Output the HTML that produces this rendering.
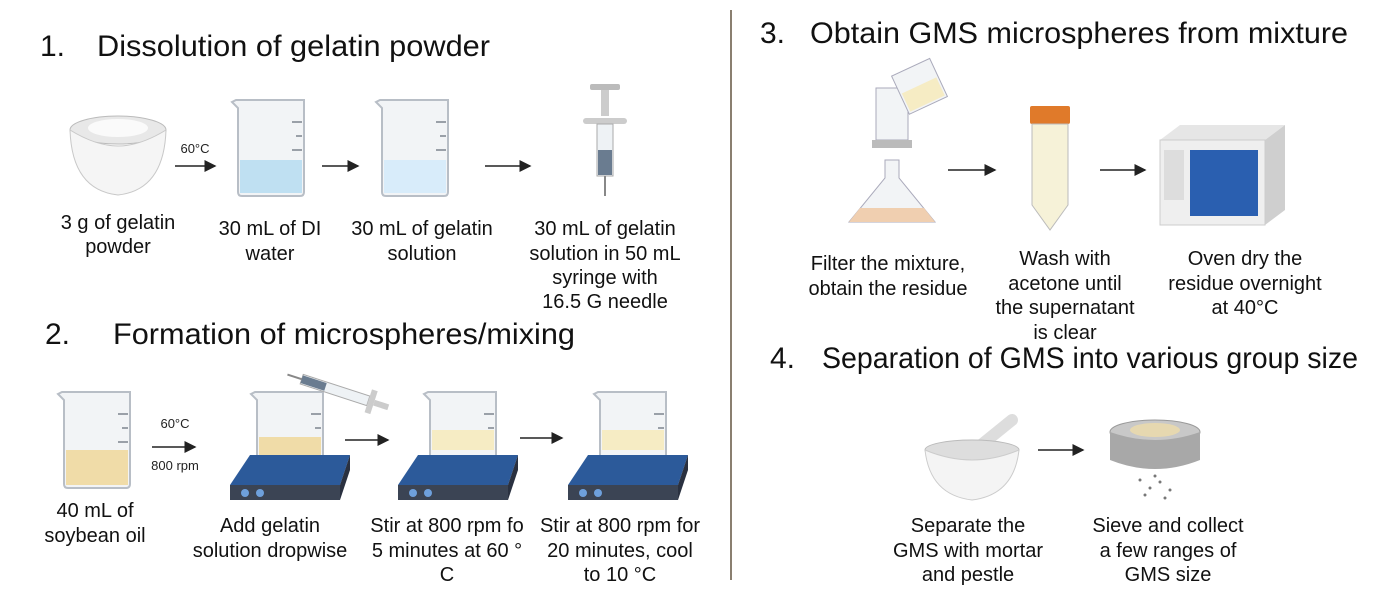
<!DOCTYPE html>
<html><head><meta charset="utf-8">
<style>
body{margin:0;background:#fff;}
svg{display:block;font-family:"Liberation Sans",Arial,sans-serif;}
.t{font-size:30px;fill:#111;}
.c{font-size:20px;fill:#111;text-anchor:middle;}
.s{font-size:13px;fill:#222;}
</style></head>
<body>
<svg width="1375" height="591" viewBox="0 0 1375 591">
<defs>
<marker id="ah" markerWidth="8" markerHeight="8" refX="7" refY="4" orient="auto"><path d="M0,0 L8,4 L0,8 z" fill="#222"/></marker>
<g id="beaker">
<path d="M0,0 L68,0 L68,92 Q68,96 64,96 L6,96 Q2,96 2,92 L2,8 L-4,2 z" fill="#f2f4f6" stroke="#b8bec6" stroke-width="2"/>
<g stroke="#9aa0a8" stroke-width="2"><line x1="56" y1="22" x2="66" y2="22"/><line x1="60" y1="36" x2="66" y2="36"/><line x1="56" y1="50" x2="66" y2="50"/><line x1="60" y1="64" x2="66" y2="64"/><line x1="56" y1="78" x2="66" y2="78"/></g>
</g>
<g id="plate">
<path d="M0,30 L20,0 L120,0 L110,30 z" fill="#2c5a9a"/>
<path d="M0,30 L110,30 L110,45 L0,45 z" fill="#3b4454"/>
<path d="M110,30 L120,0 L120,15 L110,45 z" fill="#2a3140"/>
<circle cx="15" cy="38" r="4" fill="#6ea0dc"/><circle cx="30" cy="38" r="4" fill="#6ea0dc"/>
</g>
</defs>

<line x1="731" y1="10" x2="731" y2="580" stroke="#8a7f70" stroke-width="2"/>

<!-- Section 1 -->
<g>
<text x="40" y="56" class="t">1.</text>
<text x="97" y="56" class="t" textLength="393" lengthAdjust="spacingAndGlyphs">Dissolution of gelatin powder</text>
<g>
<ellipse cx="118" cy="130" rx="48" ry="14" fill="#e8e8e8" stroke="#bbb"/>
<path d="M70,130 Q72,190 118,195 Q164,190 166,130 Q140,146 118,146 Q96,146 70,130 z" fill="#f5f5f5" stroke="#c8c8c8"/>
<ellipse cx="118" cy="128" rx="30" ry="9" fill="#fafafa"/>
</g>
<text x="195" y="153" class="s" text-anchor="middle">60°C</text>
<line x1="175" y1="166" x2="215" y2="166" stroke="#222" stroke-width="1.5" marker-end="url(#ah)"/>
<g transform="translate(236,100)"><use href="#beaker"/><rect x="4" y="60" width="62" height="33" fill="#bfe0f2"/></g>
<line x1="322" y1="166" x2="358" y2="166" stroke="#222" stroke-width="1.5" marker-end="url(#ah)"/>
<g transform="translate(380,100)"><use href="#beaker"/><rect x="4" y="60" width="62" height="33" fill="#d8ecfa"/></g>
<line x1="485" y1="166" x2="530" y2="166" stroke="#222" stroke-width="1.5" marker-end="url(#ah)"/>
<g>
<rect x="601" y="86" width="8" height="30" fill="#ccc"/><rect x="590" y="84" width="30" height="6" rx="2" fill="#bbb"/>
<rect x="583" y="118" width="44" height="6" rx="3" fill="#ccc"/>
<rect x="597" y="124" width="16" height="52" fill="#eef2f5" stroke="#aaa"/>
<rect x="598" y="150" width="14" height="25" fill="#6a7c90"/>
<line x1="605" y1="176" x2="605" y2="196" stroke="#888" stroke-width="2"/>
</g>
<text class="c"><tspan x="118" y="229">3 g of gelatin</tspan><tspan x="118" y="253">powder</tspan></text>
<text class="c"><tspan x="270" y="235">30 mL of DI</tspan><tspan x="270" y="260">water</tspan></text>
<text class="c"><tspan x="422" y="235">30 mL of gelatin</tspan><tspan x="422" y="260">solution</tspan></text>
<text class="c"><tspan x="605" y="235">30 mL of gelatin</tspan><tspan x="605" y="260">solution in 50 mL</tspan><tspan x="605" y="284">syringe with</tspan><tspan x="605" y="308">16.5 G needle</tspan></text>
</g>

<!-- Section 2 -->
<g>
<text x="45" y="344" class="t">2.</text>
<text x="113" y="344" class="t" textLength="462" lengthAdjust="spacingAndGlyphs">Formation of microspheres/mixing</text>
<g transform="translate(62,392)"><use href="#beaker"/><rect x="4" y="58" width="62" height="35" fill="#f0dca8"/></g>
<text x="175" y="428" class="s" text-anchor="middle">60°C</text>
<line x1="152" y1="447" x2="195" y2="447" stroke="#222" stroke-width="1.5" marker-end="url(#ah)"/>
<text x="175" y="470" class="s" text-anchor="middle">800 rpm</text>
<g>
<g transform="translate(255,392)"><use href="#beaker"/><rect x="4" y="45" width="62" height="25" fill="#f0dca8"/></g>
<g transform="translate(230,455)"><use href="#plate"/></g>
<g transform="rotate(18 335 390)"><rect x="300" y="385" width="70" height="10" fill="#eef2f5" stroke="#aaa"/><rect x="300" y="386" width="25" height="8" fill="#6a7c90"/><line x1="285" y1="390" x2="300" y2="390" stroke="#888" stroke-width="2"/><rect x="370" y="378" width="6" height="24" fill="#ccc"/><rect x="376" y="387" width="15" height="6" fill="#ccc"/></g>
</g>
<line x1="345" y1="440" x2="388" y2="440" stroke="#222" stroke-width="1.5" marker-end="url(#ah)"/>
<g>
<g transform="translate(428,392)"><use href="#beaker"/><rect x="4" y="38" width="62" height="20" fill="#f6ecc4"/></g>
<g transform="translate(398,455)"><use href="#plate"/></g>
</g>
<line x1="520" y1="438" x2="562" y2="438" stroke="#222" stroke-width="1.5" marker-end="url(#ah)"/>
<g>
<g transform="translate(598,392)"><use href="#beaker"/><rect x="4" y="38" width="62" height="20" fill="#f6ecc4"/></g>
<g transform="translate(568,455)"><use href="#plate"/></g>
</g>
<text class="c"><tspan x="95" y="517">40 mL of</tspan><tspan x="95" y="542">soybean oil</tspan></text>
<text class="c"><tspan x="270" y="532">Add gelatin</tspan><tspan x="270" y="557">solution dropwise</tspan></text>
<text class="c"><tspan x="447" y="532">Stir at 800 rpm fo</tspan><tspan x="447" y="557">5 minutes at 60 °</tspan><tspan x="447" y="581">C</tspan></text>
<text class="c"><tspan x="620" y="532">Stir at 800 rpm for</tspan><tspan x="620" y="557">20 minutes, cool</tspan><tspan x="620" y="581">to 10 °C</tspan></text>
</g>

<!-- Section 3 -->
<g>
<text x="760" y="43" class="t">3.</text>
<text x="810" y="43" class="t" textLength="538" lengthAdjust="spacingAndGlyphs">Obtain GMS microspheres from mixture</text>
<g>
<rect x="876" y="88" width="32" height="52" fill="#f2f4f6" stroke="#aab"/>
<rect x="872" y="140" width="40" height="8" fill="#bbb"/>
<path d="M885,160 L899,160 L899,178 L935,222 L849,222 L885,178 z" fill="#f2f4f6" stroke="#aab"/>
<path d="M860,208 L924,208 L935,222 L849,222 z" fill="#f0cfb0"/>
<g transform="rotate(-25 920 85)"><rect x="898" y="65" width="42" height="42" fill="#f2f4f6" stroke="#aab"/><rect x="900" y="85" width="38" height="20" fill="#f6ecc4"/></g>
</g>
<line x1="948" y1="170" x2="995" y2="170" stroke="#222" stroke-width="1.5" marker-end="url(#ah)"/>
<g>
<rect x="1030" y="106" width="40" height="18" rx="2" fill="#e07a2a"/>
<path d="M1032,124 L1068,124 L1068,205 L1050,230 L1032,205 z" fill="#f6f2d8" stroke="#bbb"/>
</g>
<line x1="1100" y1="170" x2="1145" y2="170" stroke="#222" stroke-width="1.5" marker-end="url(#ah)"/>
<g>
<path d="M1160,140 L1180,125 L1285,125 L1265,140 z" fill="#e6e6e6"/>
<path d="M1265,140 L1285,125 L1285,210 L1265,225 z" fill="#cfcfcf"/>
<rect x="1160" y="140" width="105" height="85" fill="#efefef" stroke="#ccc"/>
<rect x="1190" y="150" width="68" height="66" fill="#2a5fb0"/>
<rect x="1164" y="150" width="20" height="50" fill="#ddd"/>
</g>
<text class="c"><tspan x="888" y="270">Filter the mixture,</tspan><tspan x="888" y="295">obtain the residue</tspan></text>
<text class="c"><tspan x="1065" y="265">Wash with</tspan><tspan x="1065" y="290">acetone until</tspan><tspan x="1065" y="314">the supernatant</tspan><tspan x="1065" y="339">is clear</tspan></text>
<text class="c"><tspan x="1245" y="265">Oven dry the</tspan><tspan x="1245" y="290">residue overnight</tspan><tspan x="1245" y="314">at 40°C</tspan></text>
</g>

<!-- Section 4 -->
<g>
<text x="770" y="368" class="t">4.</text>
<text x="822" y="368" class="t" textLength="536" lengthAdjust="spacingAndGlyphs">Separation of GMS into various group size</text>
<g>
<line x1="975" y1="450" x2="1012" y2="420" stroke="#ddd" stroke-width="12" stroke-linecap="round"/>
<ellipse cx="972" cy="450" rx="47" ry="10" fill="#ddd" stroke="#bbb"/>
<path d="M925,450 Q930,495 972,500 Q1014,495 1019,450 Q995,460 972,460 Q949,460 925,450 z" fill="#f4f4f4" stroke="#ccc"/>
</g>
<line x1="1038" y1="450" x2="1083" y2="450" stroke="#222" stroke-width="1.5" marker-end="url(#ah)"/>
<g>
<ellipse cx="1155" cy="432" rx="45" ry="12" fill="#c8c8c8" stroke="#999"/>
<path d="M1110,432 L1110,460 Q1155,478 1200,460 L1200,432 Q1155,448 1110,432 z" fill="#a8a8a8"/>
<ellipse cx="1155" cy="430" rx="25" ry="7" fill="#e6d8b0"/>
<g fill="#777"><circle cx="1140" cy="480" r="1.5"/><circle cx="1150" cy="488" r="1.5"/><circle cx="1160" cy="482" r="1.5"/><circle cx="1170" cy="490" r="1.5"/><circle cx="1145" cy="495" r="1.5"/><circle cx="1165" cy="498" r="1.5"/><circle cx="1155" cy="476" r="1.5"/></g>
</g>
<text class="c"><tspan x="968" y="532">Separate the</tspan><tspan x="968" y="557">GMS with mortar</tspan><tspan x="968" y="581">and pestle</tspan></text>
<text class="c"><tspan x="1168" y="532">Sieve and collect</tspan><tspan x="1168" y="557">a few ranges of</tspan><tspan x="1168" y="581">GMS size</tspan></text>
</g>
</svg>
</body></html>
